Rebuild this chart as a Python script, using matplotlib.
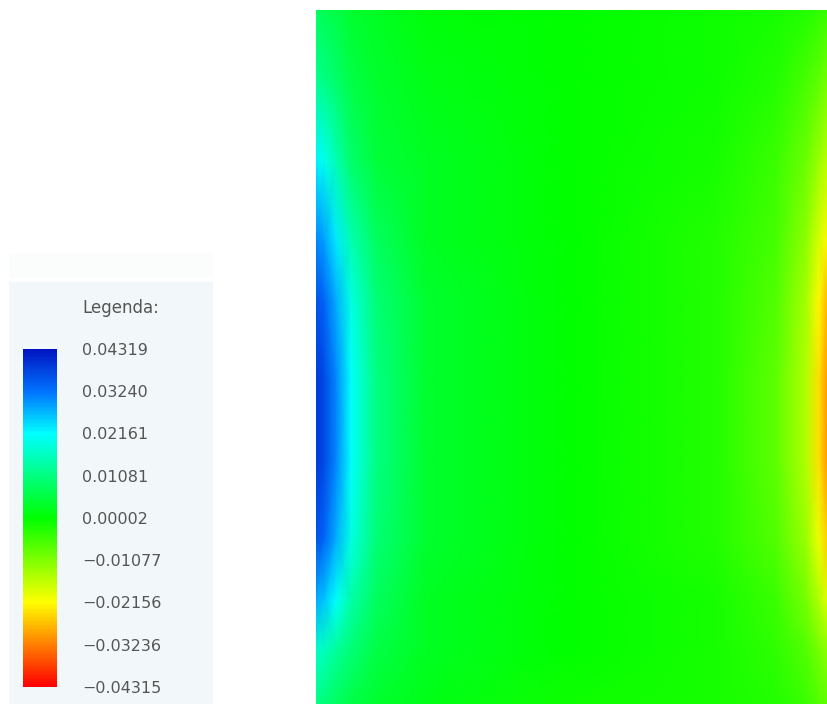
import numpy as np
import matplotlib
matplotlib.use('Agg')
import matplotlib.pyplot as plt
from matplotlib.colors import LinearSegmentedColormap, Normalize
from matplotlib.patches import Rectangle
import matplotlib.cm as cm

# legend values (top to bottom)
tick_values = [0.04319, 0.03240, 0.02161, 0.01081, 0.00002,
               -0.01077, -0.02156, -0.03236, -0.04315]
tick_labels = ['0.04319', '0.03240', '0.02161', '0.01081', '0.00002',
               '\u22120.01077', '\u22120.02156', '\u22120.03236', '\u22120.04315']
legend_title = 'Legenda:'

# field sample points (x across the plate, y from top)
x_nodes = [0, 8, 20, 35, 60, 110, 256, 400, 460, 490, 503, 512]
y_nodes = [0, 70, 150, 230, 290, 370, 450, 530, 590, 640, 694]

# field values (units of 1e-3) at each (y, x) node
field_1e3 = [
    [8, 7, 6, 4, 3, 1, 0, -1, -2, -3, -4, -5],
    [12, 11, 9, 6, 4, 2, 0, -1, -3, -6, -8, -10],
    [22, 20, 15, 9, 5, 3, 0, -2, -5, -9, -13, -16],
    [31, 29, 23, 15, 8, 3, 0, -3, -6, -12, -18, -22],
    [36, 34, 28, 19, 10, 4, 0, -3, -7, -14, -22, -28],
    [39, 37, 31, 21, 11, 4, 0, -3, -8, -15, -24, -31],
    [39, 37, 31, 21, 11, 4, 0, -3, -8, -15, -24, -31],
    [36, 34, 28, 19, 10, 4, 0, -3, -7, -13, -20, -26],
    [28, 26, 21, 14, 8, 3, 0, -2, -5, -10, -15, -19],
    [17, 16, 13, 10, 6, 3, 0, -2, -4, -7, -10, -12],
    [11, 10, 8, 6, 4, 2, -1, -2, -3, -5, -7, -8],
]

vmin, vmax = -0.04315, 0.04319
cmap = LinearSegmentedColormap.from_list('fem', [
    (0.0, (1.0, 0.0, 0.0)),
    (0.25, (1.0, 1.0, 0.0)),
    (0.5, (0.0, 1.0, 0.0)),
    (0.75, (0.0, 1.0, 1.0)),
    (0.875, (0.0, 0.45, 1.0)),
    (1.0, (0.0, 0.08, 0.76)),
])
norm = Normalize(vmin=vmin, vmax=vmax)

W, H = 828, 704
fig = plt.figure(figsize=(W / 100, H / 100), dpi=100)
fig.patch.set_facecolor('white')

# legend panel
fig.patches.append(Rectangle((9 / W, 0), 204 / W, (H - 282) / H,
                             transform=fig.transFigure,
                             facecolor='#f2f7fa', edgecolor='none', zorder=-2))
fig.patches.append(Rectangle((9 / W, (H - 277) / H), 204 / W, 24 / H,
                             transform=fig.transFigure,
                             facecolor='#fbfcfc', edgecolor='none', zorder=-2))

# field plot
ax = fig.add_axes([316 / W, 0, 512 / W, 694 / H])
X, Y = np.meshgrid(np.array(x_nodes, float), np.array(y_nodes, float))
Z = np.array(field_1e3, float) * 1e-3
ax.pcolormesh(X, Y, Z, cmap=cmap, norm=norm, shading='gouraud')
ax.set_xlim(0, 512)
ax.set_ylim(694, 0)
ax.axis('off')

# colorbar
cax = fig.add_axes([23 / W, (H - 687) / H, 34 / W, 338 / H])
cax.set_zorder(2)
cb = fig.colorbar(cm.ScalarMappable(norm=norm, cmap=cmap), cax=cax,
                  ticks=tick_values)
cb.set_ticklabels(tick_labels)
cb.outline.set_visible(False)
cax.tick_params(length=0, pad=18, labelsize=11.5, labelcolor='#555555')

fig.text(82 / W, (H - 308) / H, legend_title, fontsize=12, color='#555555',
         va='center', ha='left')

plt.savefig('out.png', dpi=100)
